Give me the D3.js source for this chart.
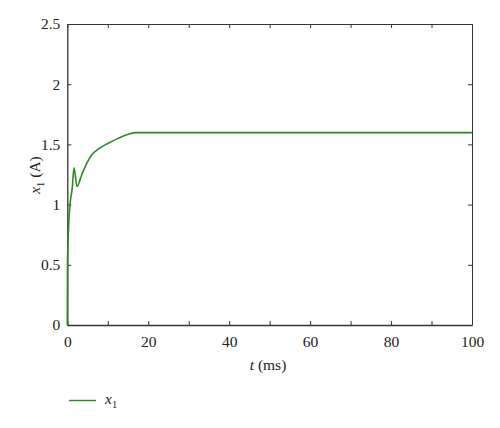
<!DOCTYPE html>
<meta charset="utf-8">
<style>
body { margin: 0; background: #fff; }
text { font-family: "Liberation Serif", "DejaVu Serif", serif; font-size: 15.5px; fill: #222; }
.axis path, .axis line { stroke: #333; }
</style>
<body>
<script src="https://d3js.org/d3.v7.min.js"></script>
<script>

// current x1 (A) against time t (ms)
var tVals = [0, 0.05, 0.3, 0.67, 1.2, 1.66, 2.4, 3.55, 4.8, 6.0, 7.7, 10.1, 12.6, 15.1, 17.1, 100];
var xVals = [0, 0.5, 0.8, 1.0, 1.13, 1.305, 1.15, 1.246, 1.343, 1.412, 1.462, 1.509, 1.55, 1.584, 1.598, 1.598];
var xTicks = [0, 20, 40, 60, 80, 100];
var yTicks = [0, 0.5, 1, 1.5, 2, 2.5];

var W = 500, H = 428;
var mLeft = 67.3, mRight = 472, mTop = 24, mBottom = 325;

var svg = d3.select("body").append("svg").attr("width", W).attr("height", H);

var x = d3.scaleLinear().domain([0, 100]).range([mLeft, mRight]);
var y = d3.scaleLinear().domain([0, 2.5]).range([mBottom, mTop]);

var minor = d3.range(0, 101, 10);

// bottom axis
var gb = svg.append("g").attr("class", "axis").attr("transform", "translate(0," + mBottom + ")")
  .call(d3.axisBottom(x).tickValues(minor).tickSize(-4).tickSizeOuter(0).tickFormat(d => xTicks.includes(d) ? d : ""));
gb.selectAll("text").attr("dy", "1.2em");
gb.select(".domain").attr("stroke-width", 1.3);

// top axis
svg.append("g").attr("class", "axis").attr("transform", "translate(0," + mTop + ")")
  .call(d3.axisTop(x).tickValues(minor).tickSize(-4).tickSizeOuter(0).tickFormat(""));

// left axis
var gl = svg.append("g").attr("class", "axis").attr("transform", "translate(" + mLeft + ",0)")
  .call(d3.axisLeft(y).tickValues(yTicks).tickSize(-4).tickSizeOuter(0).tickFormat(d3.format("")));
gl.selectAll("text").attr("x", -7);
gl.select(".domain").attr("stroke-width", 1.3);

// right axis
svg.append("g").attr("class", "axis").attr("transform", "translate(" + mRight + ",0)")
  .call(d3.axisRight(y).tickValues(yTicks).tickSize(-4).tickSizeOuter(0).tickFormat(""));

svg.selectAll(".axis text").style("font-size", "15.5px").style("font-family", "Liberation Serif, serif").attr("fill", "#222");

// curve
var pts = tVals.map((t, i) => [t, xVals[i]]);
svg.append("path")
  .datum(pts)
  .attr("fill", "none")
  .attr("stroke", "#2a8a22")
  .attr("stroke-width", 1.6)
  .attr("d", d3.line().curve(d3.curveMonotoneX).x(d => x(d[0])).y(d => y(d[1])));

// x label
var xl = svg.append("text").attr("x", 268).attr("y", 370).attr("text-anchor", "middle");
xl.append("tspan").style("font-style", "italic").text("t");
xl.append("tspan").text(" (ms)");

// y label
var yl = svg.append("text").attr("transform", "translate(40,175) rotate(-90)").attr("text-anchor", "middle");
yl.append("tspan").style("font-style", "italic").text("x");
yl.append("tspan").attr("dy", 4).style("font-size", "10.5px").text("1");
yl.append("tspan").attr("dy", -4).text(" (A)");

// legend
svg.append("line").attr("x1", 69).attr("x2", 96).attr("y1", 400.5).attr("y2", 400.5)
  .attr("stroke", "#2a8a22").attr("stroke-width", 1.4);
var lg = svg.append("text").attr("x", 105).attr("y", 404);
lg.append("tspan").style("font-style", "italic").text("x");
lg.append("tspan").attr("dy", 4).style("font-size", "10.5px").text("1");

</script>
</body>
